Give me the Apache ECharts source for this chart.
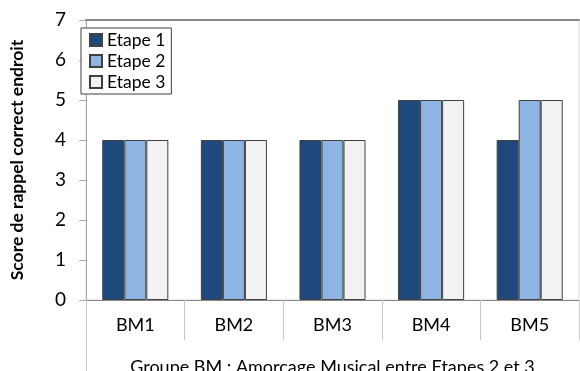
<!DOCTYPE html>
<html>
<head>
<meta charset="utf-8">
<script src="https://cdn.jsdelivr.net/npm/echarts@6/dist/echarts.min.js"></script>
<style>html,body{margin:0;padding:0;background:#fff;}#c{width:580px;height:371px;}</style>
</head>
<body>
<div id="c"></div>
<script>
const categories = ['BM1', 'BM2', 'BM3', 'BM4', 'BM5'];
const etape1 = [4, 4, 4, 5, 4];
const etape2 = [4, 4, 4, 5, 5];
const etape3 = [4, 4, 4, 5, 5];
const seriesNames = ['Etape 1', 'Etape 2', 'Etape 3'];
const yTicks = [0, 1, 2, 3, 4, 5, 6, 7];

const FONT = 'Lato';
const chart = echarts.init(document.getElementById('c'), null, {renderer: 'canvas'});
const colors = ['#1F497D', '#8DB4E2', '#F2F2F2'];
const data = [etape1, etape2, etape3];

chart.setOption({
  animation: false,
  textStyle: {fontFamily: FONT},
  grid: {left: 86, right: 1, top: 20, bottom: 71, show: true, borderColor: '#d9d9d9', borderWidth: 1,
    containLabel: false, outerBoundsMode: 'none'},
  legend: {
    left: 81, top: 28, orient: 'vertical',
    data: seriesNames,
    itemWidth: 12, itemHeight: 12, itemGap: 3,
    padding: [3, 6, 3, 8],
    borderColor: '#404040', borderWidth: 1,
    backgroundColor: '#fff',
    textStyle: {fontFamily: FONT, fontSize: 17.5, color: '#000', padding: [0, 0, 0, 0], lineHeight: 17},
    icon: 'rect'
  },
  xAxis: [{
    type: 'category',
    data: categories,
    position: 'bottom',
    axisLine: {show: true, lineStyle: {color: '#888', width: 1}},
    axisTick: {show: true, length: 40, interval: 0, lineStyle: {color: '#c8c8c8'}},
    axisLabel: {fontFamily: FONT, fontSize: 18, color: '#000', margin: 16},
    name: 'Groupe BM : Amorcage Musical entre Etapes 2 et 3',
    nameLocation: 'middle',
    nameGap: 58,
    nameTextStyle: {fontFamily: FONT, fontSize: 18, color: '#000', verticalAlign: 'top'}
  }, {
    type: 'category',
    data: categories,
    position: 'top',
    axisLine: {show: true, lineStyle: {color: '#888', width: 2}},
    axisTick: {show: false},
    axisLabel: {show: false}
  }],
  yAxis: {
    type: 'value',
    min: 0, max: 7, interval: 1,
    axisLine: {show: true, lineStyle: {color: '#aaa'}},
    axisTick: {show: true, length: 7, lineStyle: {color: '#aaa'}},
    splitLine: {show: false},
    axisLabel: {fontFamily: FONT, fontSize: 19, color: '#000', margin: 20,
      formatter: v => yTicks.includes(v) ? String(v) : ''},
    name: 'Score de rappel correct endroit',
    nameLocation: 'middle',
    nameGap: 60,
    nameRotate: 90,
    nameTextStyle: {fontFamily: FONT, fontSize: 17.5, fontWeight: 'bold', color: '#000'}
  },
  series: seriesNames.map((n, i) => ({
    name: n,
    type: 'bar',
    data: data[i],
    barGap: '0%',
    barCategoryGap: '33%',
    itemStyle: {color: colors[i], borderColor: '#404040', borderWidth: 1}
  })),
  graphic: [{
    type: 'line',
    shape: {x1: 86.5, y1: 300, x2: 86.5, y2: 371},
    style: {stroke: '#c8c8c8', lineWidth: 1},
    silent: true
  }]
});
</script>
</body>
</html>
